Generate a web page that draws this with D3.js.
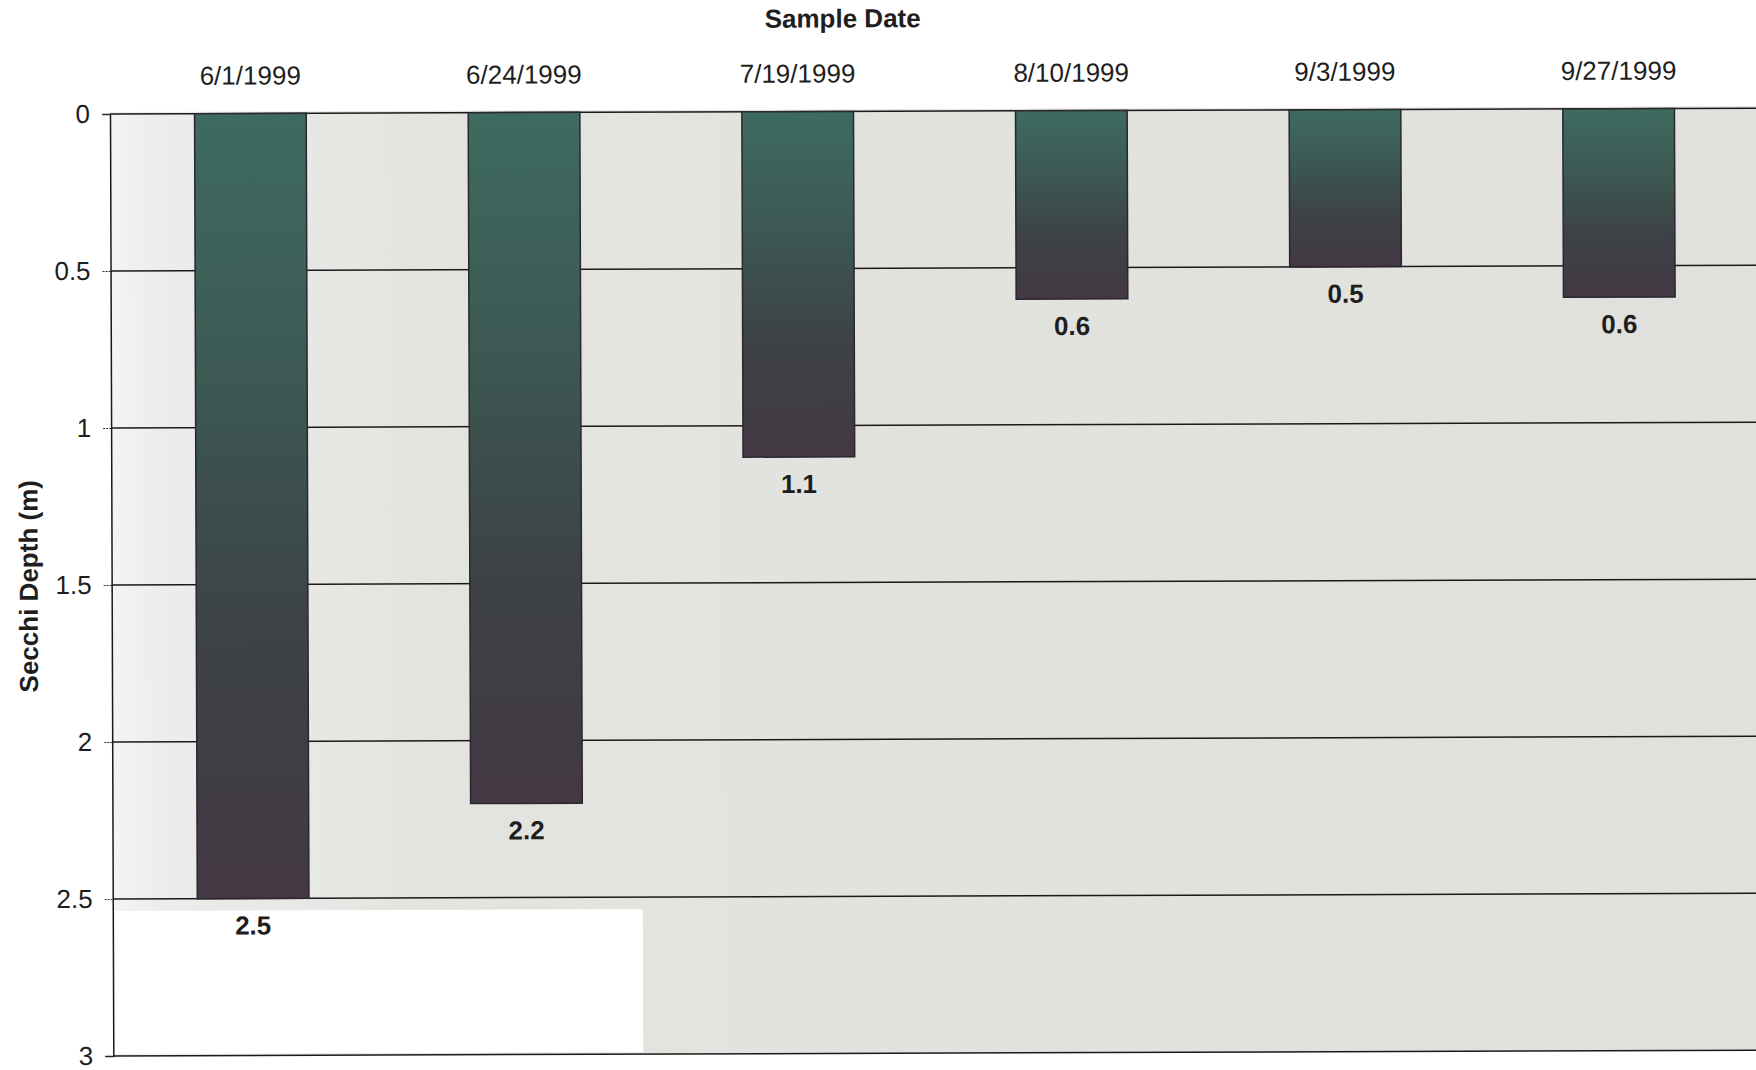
<!DOCTYPE html>
<html>
<head>
<meta charset="utf-8">
<script src="https://cdn.jsdelivr.net/npm/d3@7"></script>
<style>
  body { margin: 0; background: #fff; }
  svg { display: block; font-family: "Liberation Sans", Arial, sans-serif; }
</style>
</head>
<body>
<svg id="chart" width="1756" height="1070"></svg>
<script>
const dates = ['6/1/1999', '6/24/1999', '7/19/1999', '8/10/1999', '9/3/1999', '9/27/1999'];
const depths = [2.5, 2.2, 1.1, 0.6, 0.5, 0.6];
const yTicks = [0, 0.5, 1, 1.5, 2, 2.5, 3];

const plotLeft = 110, plotRight = 1759, plotTop = 114, plotBottom = 1056;

// the scanned page sits slightly askew, so the whole chart is turned a little
const svg = d3.select('#chart')
  .append('g')
  .attr('transform', `rotate(-0.2, ${plotLeft}, ${plotTop})`);

const x = d3.scaleBand().domain(dates).range([plotLeft, plotRight]).paddingInner(0.592).paddingOuter(0.309);
const y = d3.scaleLinear().domain([0, 3]).range([plotTop, plotBottom]);

const defs = d3.select('#chart').append('defs');
const bg = defs.append('linearGradient').attr('id', 'bg');
bg.append('stop').attr('offset', '0%').attr('stop-color', '#f4f4f2');
bg.append('stop').attr('offset', '3%').attr('stop-color', '#ececea');
bg.append('stop').attr('offset', '20%').attr('stop-color', '#e3e3e0');
bg.append('stop').attr('offset', '100%').attr('stop-color', '#e0e0dd');

const barGrad = defs.append('linearGradient').attr('id', 'bar')
  .attr('x1', 0).attr('y1', 0).attr('x2', 0).attr('y2', 1);
barGrad.append('stop').attr('offset', '0%').attr('stop-color', '#3e6b5f');
barGrad.append('stop').attr('offset', '35%').attr('stop-color', '#3c5852');
barGrad.append('stop').attr('offset', '65%').attr('stop-color', '#3d4346');
barGrad.append('stop').attr('offset', '100%').attr('stop-color', '#433843');

// plot background
svg.append('rect')
  .attr('x', plotLeft).attr('y', plotTop - 2)
  .attr('width', 1660).attr('height', plotBottom - plotTop + 2)
  .attr('fill', 'url(#bg)');
// scanned page leaves a white patch in the lower left
svg.append('rect')
  .attr('x', plotLeft).attr('y', y(2.5) + 12)
  .attr('width', 530).attr('height', plotBottom - y(2.5) - 14)
  .attr('fill', '#ffffff');

// gridlines
svg.append('g')
  .selectAll('line')
  .data(yTicks)
  .join('line')
  .attr('x1', plotLeft).attr('x2', 1770)
  .attr('y1', d => y(d)).attr('y2', d => y(d))
  .attr('stroke', '#1a1a1a')
  .attr('stroke-width', 1.5);

// y axis
const yAxis = svg.append('g')
  .attr('transform', `translate(${plotLeft},0)`)
  .call(d3.axisLeft(y).tickValues(yTicks).tickFormat(d3.format('')).tickSize(8));
yAxis.select('.domain').attr('stroke', '#1a1a1a').attr('stroke-width', 1.5);
yAxis.selectAll('.tick line').attr('stroke', '#333').attr('stroke-width', 1).attr('stroke-dasharray', '2,1');
yAxis.selectAll('.tick text')
  .attr('font-size', 26).attr('fill', '#1e1e1e').attr('x', -20)
  .style('font-family', '"Liberation Sans", Arial, sans-serif');

// bars
svg.append('g')
  .selectAll('rect')
  .data(depths)
  .join('rect')
  .attr('x', (d, i) => x(dates[i]))
  .attr('y', y(0))
  .attr('width', x.bandwidth())
  .attr('height', d => y(d) - y(0))
  .attr('fill', 'url(#bar)')
  .attr('stroke', '#2b2630')
  .attr('stroke-width', 1.5);

// value labels
svg.append('g')
  .selectAll('text')
  .data(depths)
  .join('text')
  .attr('x', (d, i) => x(dates[i]) + x.bandwidth() / 2)
  .attr('y', d => y(d) + 36)
  .attr('text-anchor', 'middle')
  .attr('font-size', 26)
  .attr('font-weight', 'bold')
  .attr('fill', '#1e1e1e')
  .text(d => d);

// category labels above the plot
svg.append('g')
  .selectAll('text')
  .data(dates)
  .join('text')
  .attr('x', d => x(d) + x.bandwidth() / 2)
  .attr('y', 85)
  .attr('text-anchor', 'middle')
  .attr('font-size', 26)
  .attr('fill', '#1e1e1e')
  .text(d => d);

svg.append('text')
  .attr('x', 843).attr('y', 30)
  .attr('text-anchor', 'middle')
  .attr('font-size', 26).attr('font-weight', 'bold').attr('fill', '#1e1e1e')
  .text('Sample Date');

svg.append('text')
  .attr('transform', 'translate(36,586) rotate(-90)')
  .attr('text-anchor', 'middle')
  .attr('font-size', 26).attr('font-weight', 'bold').attr('fill', '#1e1e1e')
  .text('Secchi Depth (m)');
</script>
</body>
</html>
